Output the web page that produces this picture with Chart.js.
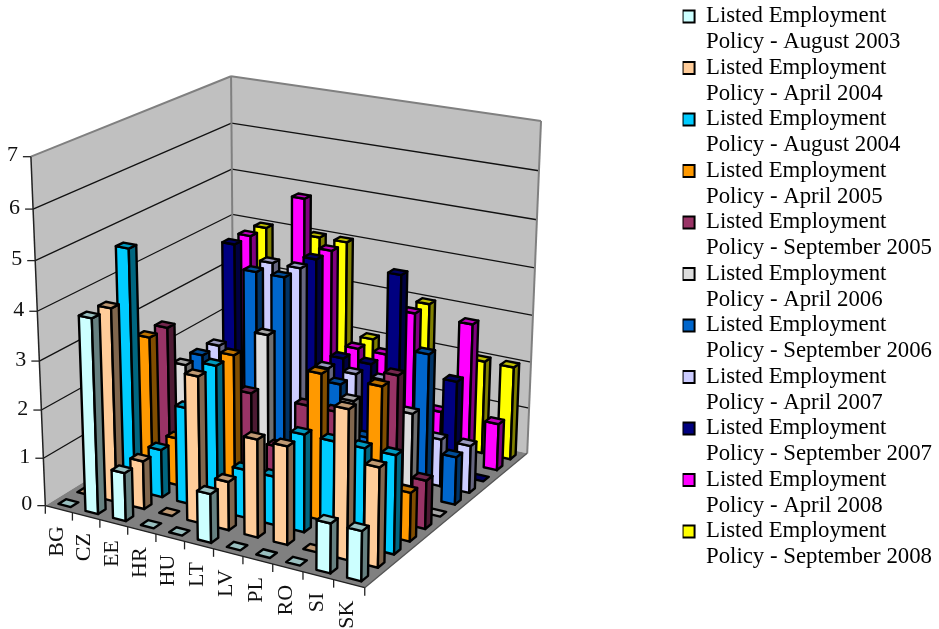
<!DOCTYPE html>
<html lang="en">
<head>
  <meta charset="UTF-8">
  <title>Listed Employment Policy</title>
  <script src="https://cdn.jsdelivr.net/npm/chart.js"></script>
  <style>
    html, body { margin: 0; padding: 0; background: #fff; }
    canvas { display: block; }
  </style>
</head>
<body>
  <canvas id="policyChart" width="939" height="629"></canvas>
  <script>
    const countries = ['BG', 'CZ', 'EE', 'HR', 'HU', 'LT', 'LV', 'PL', 'RO', 'SI', 'SK'];

    const august2003 = [0, 4, 1, 0, 0, 1, 0, 0, 0, 1, 1];
    const april2004 = [0, 4, 1, 0, 3, 1, 2, 2, 0, 3, 2];
    const august2004 = [0, 5, 1, 2, 3, 1, 1, 2, 2, 2, 2];
    const april2005 = [0, 3, 1, 0, 3, 0, 0, 3, 0, 3, 1];
    const september2005 = [0, 3, 0, 0, 2, 1, 2, 2, 0, 3, 1];
    const april2006 = [0, 2, 0, 0, 3, 0, 0, 2, 0, 2, 0];
    const september2006 = [0, 2, 0, 4, 4, 0, 2, 1, 0, 3, 1];
    const april2007 = [0, 2, 0, 4, 4, 2, 2, 2, 0, 1, 1];
    const september2007 = [0, 4, 0, 0, 4, 2, 2, 4, 0, 2, 0];
    const april2008 = [0, 4, 0, 5, 4, 2, 2, 3, 1, 3, 1];
    const september2008 = [0, 4, 0, 4, 4, 2, 0, 3, 0, 2, 2];

    const seriesValues = [august2003, april2004, august2004, april2005, september2005, april2006,
      september2006, april2007, september2007, april2008, september2008];
    const seriesDates = ['August 2003', 'April 2004', 'August 2004', 'April 2005', 'September 2005', 'April 2006',
      'September 2006', 'April 2007', 'September 2007', 'April 2008', 'September 2008'];
    const seriesColors = ['#CCFFFF', '#FFCC99', '#00CCFF', '#FF9900', '#993366', '#DDDDDD',
      '#0066CC', '#CCCCFF', '#000080', '#FF00FF', '#FFFF00'];

    const SERIF = '"Liberation Serif", "Times New Roman", serif';
    const BAR_WIDTH = 0.46;   // share of a category slot
    const BAR_DEPTH = 0.4;    // share of a series slot
    const BAR_LINE = 2.4;

    // Where the corners of the plot box land on the canvas: [u, v, w, x, y]
    // u runs along the categories, v into the depth, w up the value axis.
    const boxCorners = [
      [0, 0, 0, 45, 505],
      [1, 0, 0, 365, 588],
      [1, 1, 0, 527, 453],
      [0, 1, 0, 234, 390],
      [0, 0, 1, 31, 157],
      [0, 1, 1, 231, 76],
      [1, 1, 1, 541, 121]
    ];

    // Least squares fit of the 3x4 perspective matrix, last entry fixed to 1
    function solveProjection(points) {
      const rows = [];
      const rhs = [];
      points.forEach(([u, v, w, x, y]) => {
        rows.push([u, v, w, 1, 0, 0, 0, 0, -x * u, -x * v, -x * w]);
        rhs.push(x);
        rows.push([0, 0, 0, 0, u, v, w, 1, -y * u, -y * v, -y * w]);
        rhs.push(y);
      });
      const n = 11;
      const m = [];
      for (let i = 0; i < n; i++) {
        m.push(new Array(n + 1).fill(0));
        for (let j = 0; j < n; j++) {
          rows.forEach(r => { m[i][j] += r[i] * r[j]; });
        }
        rows.forEach((r, k) => { m[i][n] += r[i] * rhs[k]; });
      }
      for (let c = 0; c < n; c++) {
        let best = c;
        for (let r = c + 1; r < n; r++) {
          if (Math.abs(m[r][c]) > Math.abs(m[best][c])) best = r;
        }
        [m[c], m[best]] = [m[best], m[c]];
        for (let r = 0; r < n; r++) {
          if (r === c) continue;
          const f = m[r][c] / m[c][c];
          for (let k = c; k <= n; k++) m[r][k] -= f * m[c][k];
        }
      }
      return m.map((row, i) => row[n] / row[i]);
    }

    const P = solveProjection(boxCorners);

    function project(u, v, w) {
      const d = P[8] * u + P[9] * v + P[10] * w + 1;
      return {
        x: (P[0] * u + P[1] * v + P[2] * w + P[3]) / d,
        y: (P[4] * u + P[5] * v + P[6] * w + P[7]) / d
      };
    }

    function shade(hex, k) {
      const n = parseInt(hex.slice(1), 16);
      const r = Math.round((n >> 16 & 255) * k);
      const g = Math.round((n >> 8 & 255) * k);
      const b = Math.round((n & 255) * k);
      return `rgb(${r},${g},${b})`;
    }

    function face(ctx, pts, fill, stroke, lineWidth) {
      ctx.beginPath();
      pts.forEach((p, i) => {
        const q = project(p[0], p[1], p[2]);
        if (i === 0) ctx.moveTo(q.x, q.y); else ctx.lineTo(q.x, q.y);
      });
      ctx.closePath();
      if (fill) {
        ctx.fillStyle = fill;
        ctx.fill();
      }
      if (stroke) {
        ctx.strokeStyle = stroke;
        ctx.lineWidth = lineWidth;
        ctx.stroke();
      }
    }

    function edge(ctx, a, b, stroke, lineWidth) {
      const p = project(a[0], a[1], a[2]);
      const q = project(b[0], b[1], b[2]);
      ctx.beginPath();
      ctx.moveTo(p.x, p.y);
      ctx.lineTo(q.x, q.y);
      ctx.strokeStyle = stroke;
      ctx.lineWidth = lineWidth;
      ctx.stroke();
    }

    // Scale pixels to 0..1 along each of the three box axes
    const toUnit = {
      u: (chart, value) => (chart.scales.x.getPixelForValue(value) - chart.scales.x.left) / chart.scales.x.width,
      v: (chart, value) => (chart.scales.depth.getPixelForValue(value) - chart.scales.depth.left) / chart.scales.depth.width,
      w: (chart, value) => (chart.scales.y.bottom - chart.scales.y.getPixelForValue(value)) / chart.scales.y.height
    };

    // Columns of one series, drawn left to right so nearer ones overlap
    class Column3dController extends Chart.BarController {
      draw() {
        const chart = this.chart;
        const ctx = chart.ctx;
        const index = this.index;
        const data = chart.data.datasets[index].data;
        const color = chart.data.datasets[index].backgroundColor;
        const v0 = toUnit.v(chart, index - BAR_DEPTH / 2);
        const v1 = toUnit.v(chart, index + BAR_DEPTH / 2);
        ctx.save();
        ctx.lineJoin = 'round';
        data.forEach((value, i) => {
          const u0 = toUnit.u(chart, i - BAR_WIDTH / 2);
          const u1 = toUnit.u(chart, i + BAR_WIDTH / 2);
          const w = toUnit.w(chart, value);
          if (value > 0) {
            face(ctx, [[u0, v0, 0], [u1, v0, 0], [u1, v0, w], [u0, v0, w]], color, '#000', BAR_LINE);
            face(ctx, [[u1, v0, 0], [u1, v1, 0], [u1, v1, w], [u1, v0, w]], shade(color, 0.5), '#000', BAR_LINE);
          }
          face(ctx, [[u0, v0, w], [u1, v0, w], [u1, v1, w], [u0, v1, w]], shade(color, 0.75), '#000', BAR_LINE);
        });
        ctx.restore();
      }
    }
    Column3dController.id = 'column3d';
    Chart.register(Column3dController);

    // Walls, floor, gridlines and axis labels of the box
    const plotBox = {
      id: 'plotBox',
      beforeDatasetsDraw(chart) {
        const ctx = chart.ctx;
        const yScale = chart.scales.y;
        ctx.save();
        ctx.lineJoin = 'round';
        face(ctx, [[0, 0, 0], [0, 1, 0], [0, 1, 1], [0, 0, 1]], '#C0C0C0');
        face(ctx, [[0, 1, 0], [1, 1, 0], [1, 1, 1], [0, 1, 1]], '#C0C0C0');
        face(ctx, [[0, 0, 0], [1, 0, 0], [1, 1, 0], [0, 1, 0]], '#808080');

        yScale.ticks.forEach(t => {
          const w = toUnit.w(chart, t.value);
          if (t.value > 0 && t.value < yScale.max) {
            edge(ctx, [0, 0, w], [0, 1, w], '#111', 1.3);
            edge(ctx, [0, 1, w], [1, 1, w], '#111', 1.3);
          }
        });

        // grey outline of the walls
        edge(ctx, [0, 0, 1], [0, 1, 1], '#808080', 2);
        edge(ctx, [0, 1, 1], [1, 1, 1], '#808080', 2);
        edge(ctx, [1, 1, 1], [1, 1, 0], '#808080', 2);
        edge(ctx, [0, 1, 0], [0, 1, 1], '#808080', 2);
        edge(ctx, [1, 0, 0], [1, 1, 0], '#555', 1.3);

        // value axis
        edge(ctx, [0, 0, 0], [0, 0, 1], '#222', 1.5);
        ctx.fillStyle = '#111';
        ctx.font = `22px ${SERIF}`;
        ctx.textAlign = 'right';
        ctx.textBaseline = 'middle';
        yScale.ticks.forEach(t => {
          const p = project(0, 0, toUnit.w(chart, t.value));
          ctx.beginPath();
          ctx.moveTo(p.x, p.y);
          ctx.lineTo(p.x - 8, p.y);
          ctx.strokeStyle = '#222';
          ctx.lineWidth = 1.3;
          ctx.stroke();
          ctx.fillText(String(t.value), p.x - 13, p.y - 1);
        });

        // category axis, labels turned to read upward
        edge(ctx, [0, 0, 0], [1, 0, 0], '#222', 1.5);
        for (let i = 0; i <= countries.length; i++) {
          const p = project(toUnit.u(chart, i - 0.5), 0, 0);
          ctx.beginPath();
          ctx.moveTo(p.x, p.y);
          ctx.lineTo(p.x, p.y + 8);
          ctx.strokeStyle = '#222';
          ctx.lineWidth = 1.3;
          ctx.stroke();
        }
        ctx.font = `22px ${SERIF}`;
        ctx.textAlign = 'right';
        countries.forEach((name, i) => {
          const p = project(toUnit.u(chart, i), 0, 0);
          ctx.save();
          ctx.translate(p.x - 1.5, p.y + 17);
          ctx.rotate(-Math.PI / 2);
          ctx.fillText(name, 0, 0);
          ctx.restore();
        });
        ctx.restore();
      }
    };

    const ctx = document.getElementById('policyChart').getContext('2d');
    const policyChart = new Chart(ctx, {
      type: 'column3d',
      plugins: [plotBox],
      data: {
        labels: countries,
        datasets: seriesValues.map((values, i) => ({
          label: 'Listed Employment Policy - ' + seriesDates[i],
          data: values,
          backgroundColor: seriesColors[i],
          clip: false
        }))
      },
      options: {
        responsive: false,
        animation: false,
        events: [],
        layout: { padding: { top: 5, right: -3 } },
        scales: {
          x: { type: 'category', display: false, offset: true },
          depth: { type: 'category', axis: 'x', labels: seriesDates, display: false, offset: true },
          y: { type: 'linear', display: false, min: 0, max: 7, ticks: { stepSize: 1 } }
        },
        plugins: {
          tooltip: { enabled: false },
          legend: {
            position: 'right',
            align: 'start',
            labels: {
              boxWidth: 12,
              boxHeight: 12,
              padding: 0,
              color: '#111',
              font: { family: SERIF, size: 22.8, lineHeight: 25.75 / 22.8 },
              generateLabels: chart => chart.data.datasets.map((ds, i) => ({
                text: ['Listed Employment', 'Policy - ' + seriesDates[i]],
                fillStyle: ds.backgroundColor,
                strokeStyle: '#000',
                lineWidth: 2,
                datasetIndex: i
              }))
            }
          }
        }
      }
    });
  </script>
</body>
</html>
